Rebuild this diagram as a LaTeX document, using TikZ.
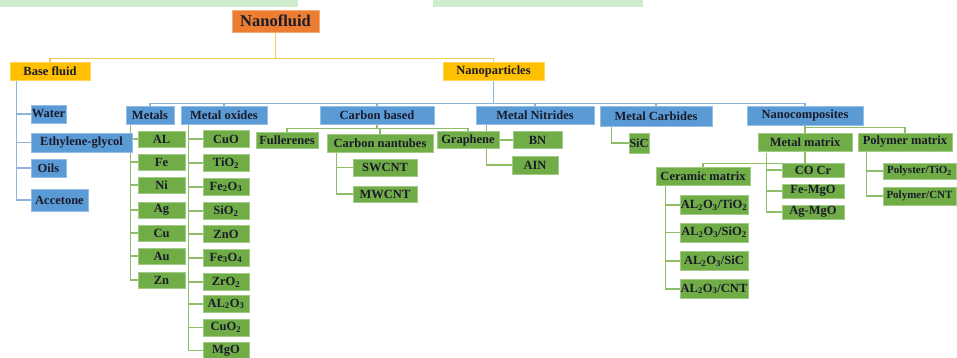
\documentclass[tikz,border=0pt]{standalone}
\usepackage{fontspec}
\setmainfont{Liberation Serif}
\usetikzlibrary{positioning,backgrounds}

\definecolor{nfOrange}{HTML}{ED7D31}
\definecolor{nfYellow}{HTML}{FFC000}
\definecolor{nfBlue}{HTML}{5B9BD5}
\definecolor{nfGreen}{HTML}{70AD47}
\definecolor{nfText}{HTML}{1A1A2A}
\definecolor{lnYellow}{HTML}{EFCF55}
\definecolor{lnBlue}{HTML}{8DB3D8}
\definecolor{lnGreen}{HTML}{8EBF68}
\definecolor{hlGreen}{HTML}{CDEDCE}

\begin{document}
\begin{tikzpicture}[x=1pt, y=-1pt,
  bx/.style={rectangle, inner sep=0pt, line width=0.8pt, text=nfText,
             font=\bfseries\fontsize{12.5}{13}\selectfont},
  sroot/.style={bx, fill=nfOrange, draw=nfOrange!65!white,
                minimum width=87pt, minimum height=22pt,
                font=\bfseries\fontsize{16.5}{18}\selectfont},
  stop/.style={bx, fill=nfYellow, draw=nfYellow!65!white, minimum height=18pt},
  scat/.style={bx, fill=nfBlue, draw=nfBlue!65!white, minimum height=18pt},
  sleaf/.style={bx, fill=nfGreen, draw=nfGreen!65!white, minimum height=16pt},
  ylnk/.style={draw=lnYellow, line width=1.5pt},
  blnk/.style={draw=lnBlue, line width=1.5pt},
  glnk/.style={draw=lnGreen, line width=1.5pt}
]
\useasboundingbox (0,0) rectangle (957,358);
\clip (0,0) rectangle (957,358);

% highlighted text line cut at the top
\fill[hlGreen] (0,0) rectangle (298,7);
\fill[hlGreen] (433,0) rectangle (643,7);

%% ── top levels ──────────────────────────────────────────────────────────
\node[sroot] (root) at (275.5, 21)  {Nanofluid};
\node[stop, minimum width=80pt]  (base) at (50, 71)    {Base fluid};
\node[stop, minimum width=101pt] (nano) at (493.5, 71) {Nanoparticles};

%% Base fluid children
\node[scat, minimum width=35pt]  (water) at (48.5, 114)  {Water};
\node[scat, minimum width=101pt, minimum height=19pt] (ethyl) at (81.5, 142.5) {Ethylene-glycol};
\node[scat, minimum width=35pt]  (oils)  at (48.5, 168)  {Oils};
\node[scat, minimum width=57pt, minimum height=22pt] (acc) at (59.5, 200) {Accetone};

%% Nanoparticle classes
\node[scat, minimum width=48pt]  (metals)  at (150, 115)   {Metals};
\node[scat, minimum width=86pt]  (metox)   at (224, 115)   {Metal oxides};
\node[scat, minimum width=114pt] (carb)    at (377, 115)   {Carbon based};
\node[scat, minimum width=118pt] (nitr)    at (535, 115)   {Metal Nitrides};
\node[scat, minimum width=112pt, minimum height=20pt] (carbide) at (656, 116.5) {Metal Carbides};
\node[scat, minimum width=116pt, minimum height=19pt] (ncomp)   at (805, 115.5) {Nanocomposites};

%% Metals (x = 161.5)
\node[sleaf, minimum width=47pt] (al) at (161.5, 139) {AL};
\node[sleaf, minimum width=47pt] (fe) at (161.5, 162) {Fe};
\node[sleaf, minimum width=47pt] (ni) at (161.5, 185) {Ni};
\node[sleaf, minimum width=47pt] (ag) at (161.5, 210) {Ag};
\node[sleaf, minimum width=47pt] (cu) at (161.5, 233) {Cu};
\node[sleaf, minimum width=47pt] (au) at (161.5, 256) {Au};
\node[sleaf, minimum width=47pt] (zn) at (161.5, 280) {Zn};

%% Metal oxides (x = 226)
\node[sleaf, minimum width=46pt, minimum height=17pt] (cuo)  at (226, 139)   {CuO};
\node[sleaf, minimum width=46pt, minimum height=17pt] (tio)  at (226, 163)   {TiO\textsubscript{2}};
\node[sleaf, minimum width=46pt, minimum height=17pt] (feo)  at (226, 187)   {Fe\textsubscript{2}O\textsubscript{3}};
\node[sleaf, minimum width=46pt, minimum height=17pt] (sio)  at (226, 211)   {SiO\textsubscript{2}};
\node[sleaf, minimum width=46pt, minimum height=17pt] (zno)  at (226, 234)   {ZnO};
\node[sleaf, minimum width=46pt, minimum height=17pt] (fe3o) at (226, 258)   {Fe\textsubscript{3}O\textsubscript{4}};
\node[sleaf, minimum width=46pt, minimum height=17pt] (zro)  at (226, 282)   {ZrO\textsubscript{2}};
\node[sleaf, minimum width=46pt, minimum height=17pt] (alo)  at (226, 304)   {AL\textsubscript{2}O\textsubscript{3}};
\node[sleaf, minimum width=46pt, minimum height=17pt] (cuo2) at (226, 327.5) {CuO\textsubscript{2}};
\node[sleaf, minimum width=46pt, minimum height=17pt] (mgo)  at (226, 350.5) {MgO};

%% Carbon based
\node[sleaf, minimum width=62pt]  (fuller) at (287, 140)   {Fullerenes};
\node[sleaf, minimum width=106pt, minimum height=18pt] (cnt) at (380, 143) {Carbon nantubes};
\node[sleaf, minimum width=62pt, minimum height=17pt] (graph) at (468, 140) {Graphene};
\node[sleaf, minimum width=64pt, minimum height=17pt] (swcnt) at (385, 167.5) {SWCNT};
\node[sleaf, minimum width=64pt]  (mwcnt)  at (385, 194)   {MWCNT};

%% Metal nitrides / carbides
\node[sleaf, minimum width=49pt, minimum height=17pt] (bn)  at (537.5, 140) {BN};
\node[sleaf, minimum width=46pt, minimum height=18pt] (ain) at (535, 165)   {AIN};
\node[sleaf, minimum width=20pt, minimum height=20pt] (sic) at (639, 143)   {SiC};

%% Nanocomposites
\node[sleaf, minimum width=94pt, minimum height=18pt] (mmat) at (805, 142) {Metal matrix};
\node[sleaf, minimum width=94pt, minimum height=18pt] (pmat) at (905, 142) {Polymer matrix};
\node[sleaf, minimum width=94pt, minimum height=18pt] (cmat) at (703, 176) {Ceramic matrix};
\node[sleaf, minimum width=62pt, minimum height=14pt] (cocr)  at (813, 170) {CO Cr};
\node[sleaf, minimum width=62pt, minimum height=14pt] (femgo) at (813, 191) {Fe-MgO};
\node[sleaf, minimum width=62pt, minimum height=14pt] (agmgo) at (813, 212) {Ag-MgO};
\node[sleaf, minimum width=68pt, minimum height=19pt] (cti)  at (714, 205)   {AL\textsubscript{2}O\textsubscript{3}/TiO\textsubscript{2}};
\node[sleaf, minimum width=68pt, minimum height=19pt] (csio) at (714, 232.5) {AL\textsubscript{2}O\textsubscript{3}/SiO\textsubscript{2}};
\node[sleaf, minimum width=68pt, minimum height=19pt] (csic) at (714, 261)   {AL\textsubscript{2}O\textsubscript{3}/SiC};
\node[sleaf, minimum width=68pt, minimum height=19pt] (ccnt) at (714, 289)   {AL\textsubscript{2}O\textsubscript{3}/CNT};
\node[sleaf, minimum width=73pt, font=\bfseries\fontsize{11}{12}\selectfont]
     (polti)  at (919.5, 171) {Polyster/TiO\textsubscript{2}};
\node[sleaf, minimum width=73pt, minimum height=18pt, font=\bfseries\fontsize{11}{12}\selectfont]
     (polcnt) at (919.5, 196) {Polymer/CNT};

%% ── edges ───────────────────────────────────────────────────────────────
\begin{scope}[on background layer]
% Nanofluid
\draw[ylnk] (root.south) -- ++(0,26) -| (base.north);
\draw[ylnk] (root.south) -- ++(0,26) -| (nano.north);

% Base fluid
\draw[blnk] ([xshift=7pt]base.south west) |- (water.west);
\draw[blnk] ([xshift=7pt]base.south west) |- (ethyl.west);
\draw[blnk] ([xshift=7pt]base.south west) |- (oils.west);
\draw[blnk] ([xshift=7pt]base.south west) |- (acc.west);

% Nanoparticles
\draw[blnk] (nano.south) -- ++(0,23) -| (metals.north);
\draw[blnk] (nano.south) -- ++(0,23) -| (metox.north);
\draw[blnk] (nano.south) -- ++(0,23) -| (carb.north);
\draw[blnk] (nano.south) -- ++(0,23) -| (nitr.north);
\draw[blnk] (nano.south) -- ++(0,23) -| (carbide.north);
\draw[blnk] (nano.south) -- ++(0,23) -| (ncomp.north);

%% ─── Metals / Metal oxides ───────────────────────────────────────────────
\draw[glnk] ([xshift=5pt]metals.south west) |- (al.west);
\draw[glnk] ([xshift=5pt]metals.south west) |- (fe.west);
\draw[glnk] ([xshift=5pt]metals.south west) |- (ni.west);
\draw[glnk] ([xshift=5pt]metals.south west) |- (ag.west);
\draw[glnk] ([xshift=5pt]metals.south west) |- (cu.west);
\draw[glnk] ([xshift=5pt]metals.south west) |- (au.west);
\draw[glnk] ([xshift=5pt]metals.south west) |- (zn.west);

\draw[glnk] ([xshift=8pt]metox.south west) |- (cuo.west);
\draw[glnk] ([xshift=8pt]metox.south west) |- (tio.west);
\draw[glnk] ([xshift=8pt]metox.south west) |- (feo.west);
\draw[glnk] ([xshift=8pt]metox.south west) |- (sio.west);
\draw[glnk] ([xshift=8pt]metox.south west) |- (zno.west);
\draw[glnk] ([xshift=8pt]metox.south west) |- (fe3o.west);
\draw[glnk] ([xshift=8pt]metox.south west) |- (zro.west);
\draw[glnk] ([xshift=8pt]metox.south west) |- (alo.west);
\draw[glnk] ([xshift=8pt]metox.south west) |- (cuo2.west);
\draw[glnk] ([xshift=8pt]metox.south west) |- (mgo.west);

%% ─── Carbon based ────────────────────────────────────────────────────────
\draw[glnk] (carb.south) -- ++(0,4) -| (fuller.north);
\draw[glnk] (carb.south) -- ++(0,4) -| (cnt.north);
\draw[glnk] (carb.south) -- ++(0,4) -| (graph.north);
\draw[glnk] ([xshift=10pt]cnt.south west) |- (swcnt.west);
\draw[glnk] ([xshift=10pt]cnt.south west) |- (mwcnt.west);

%% ─── Nitrides / Carbides ─────────────────────────────────────────────────
\draw[glnk] ([xshift=11pt]nitr.south west) |- (ain.west);
\draw[glnk] (graph.east) -- (bn.west);
\draw[glnk] ([xshift=12pt]carbide.south west) |- (sic.west);

%% ─── Nanocomposites ──────────────────────────────────────────────────────
\draw[glnk] (ncomp.south) -- ++(0,2) -| (mmat.north);
\draw[glnk] (ncomp.south) -- ++(0,2) -| (pmat.north);
\draw[glnk] (mmat.south) -- ++(0,12) -| (cmat.north);
\draw[glnk] ([xshift=9pt,yshift=-2pt]mmat.south west) |- (cocr.west);
\draw[glnk] ([xshift=9pt,yshift=-2pt]mmat.south west) |- (femgo.west);
\draw[glnk] ([xshift=9pt,yshift=-2pt]mmat.south west) |- (agmgo.west);

\draw[glnk] ([xshift=10pt]cmat.south west) |- (cti.west);
\draw[glnk] ([xshift=10pt]cmat.south west) |- (csio.west);
\draw[glnk] ([xshift=10pt]cmat.south west) |- (csic.west);
\draw[glnk] ([xshift=10pt]cmat.south west) |- (ccnt.west);

\draw[glnk] ([xshift=9pt]pmat.south west) |- (polti.west);
\draw[glnk] ([xshift=9pt]pmat.south west) |- (polcnt.west);
\end{scope}

\end{tikzpicture}
\end{document}
